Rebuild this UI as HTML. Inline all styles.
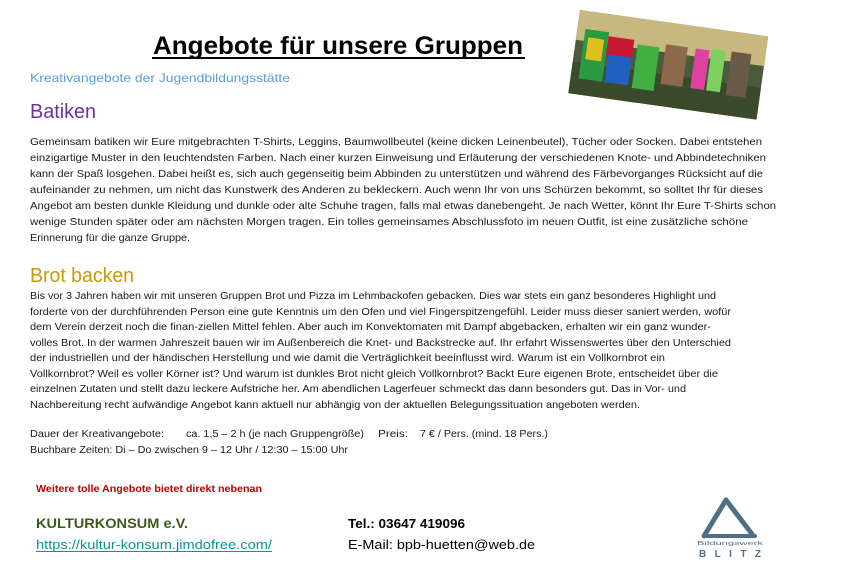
<!DOCTYPE html>
<html><head><meta charset="utf-8"><style>
html,body{margin:0;padding:0;background:#fff;width:842px;height:562px;overflow:hidden}
svg{display:block}
.b{font-family:"Liberation Sans",sans-serif;font-size:10px;fill:#1a1a1a}
</style></head><body>
<svg width="842" height="562" viewBox="0 0 842 562" xmlns="http://www.w3.org/2000/svg">
<text x="153" y="54" font-family="Liberation Sans,sans-serif" font-weight="bold" font-size="25" textLength="370" lengthAdjust="spacingAndGlyphs" fill="#000">Angebote für unsere Gruppen</text>
<rect x="152" y="57" width="373" height="2" fill="#000"/>
<text x="30" y="82" font-family="Liberation Sans,sans-serif" font-size="12" textLength="260" lengthAdjust="spacingAndGlyphs" fill="#5b9bd5">Kreativangebote der Jugendbildungsstätte</text>
<text x="30" y="118" font-family="Liberation Sans,sans-serif" font-size="20" textLength="66" lengthAdjust="spacingAndGlyphs" fill="#7030a0">Batiken</text>
<g class="b">
<text x="30" y="145" textLength="732" lengthAdjust="spacingAndGlyphs">Gemeinsam batiken wir Eure mitgebrachten T-Shirts, Leggins, Baumwollbeutel (keine dicken Leinenbeutel), Tücher oder Socken. Dabei entstehen</text>
<text x="30" y="161" textLength="736" lengthAdjust="spacingAndGlyphs">einzigartige Muster in den leuchtendsten Farben. Nach einer kurzen Einweisung und Erläuterung der verschiedenen Knote- und Abbindetechniken</text>
<text x="30" y="177" textLength="733" lengthAdjust="spacingAndGlyphs">kann der Spaß losgehen. Dabei heißt es, sich auch gegenseitig beim Abbinden zu unterstützen und während des Färbevorganges Rücksicht auf die</text>
<text x="30" y="193" textLength="733" lengthAdjust="spacingAndGlyphs">aufeinander zu nehmen, um nicht das Kunstwerk des Anderen zu bekleckern. Auch wenn Ihr von uns Schürzen bekommt, so solltet Ihr für dieses</text>
<text x="30" y="209" textLength="746" lengthAdjust="spacingAndGlyphs">Angebot am besten dunkle Kleidung und dunkle oder alte Schuhe tragen, falls mal etwas danebengeht. Je nach Wetter, könnt Ihr Eure T-Shirts schon</text>
<text x="30" y="225" textLength="718" lengthAdjust="spacingAndGlyphs">wenige Stunden später oder am nächsten Morgen tragen. Ein tolles gemeinsames Abschlussfoto im neuen Outfit, ist eine zusätzliche schöne</text>
<text x="30" y="241" textLength="160" lengthAdjust="spacingAndGlyphs">Erinnerung für die ganze Gruppe.</text>
</g>
<text x="30" y="282" font-family="Liberation Sans,sans-serif" font-size="20" textLength="104" lengthAdjust="spacingAndGlyphs" fill="#c99a06">Brot backen</text>
<g class="b">
<text x="30" y="299" textLength="686" lengthAdjust="spacingAndGlyphs">Bis vor 3 Jahren haben wir mit unseren Gruppen Brot und Pizza im Lehmbackofen gebacken. Dies war stets ein ganz besonderes Highlight und</text>
<text x="30" y="315" textLength="701" lengthAdjust="spacingAndGlyphs">forderte von der durchführenden Person eine gute Kenntnis um den Ofen und viel Fingerspitzengefühl. Leider muss dieser saniert werden, wofür</text>
<text x="30" y="330" textLength="681" lengthAdjust="spacingAndGlyphs">dem Verein derzeit noch die finan-ziellen Mittel fehlen. Aber auch im Konvektomaten mit Dampf abgebacken, erhalten wir ein ganz wunder-</text>
<text x="30" y="346" textLength="701" lengthAdjust="spacingAndGlyphs">volles Brot. In der warmen Jahreszeit bauen wir im Außenbereich die Knet- und Backstrecke auf. Ihr erfahrt Wissenswertes über den Unterschied</text>
<text x="30" y="361" textLength="635" lengthAdjust="spacingAndGlyphs">der industriellen und der händischen Herstellung und wie damit die Verträglichkeit beeinflusst wird. Warum ist ein Vollkornbrot ein</text>
<text x="30" y="377" textLength="688" lengthAdjust="spacingAndGlyphs">Vollkornbrot? Weil es voller Körner ist? Und warum ist dunkles Brot nicht gleich Vollkornbrot? Backt Eure eigenen Brote, entscheidet über die</text>
<text x="30" y="392" textLength="656" lengthAdjust="spacingAndGlyphs">einzelnen Zutaten und stellt dazu leckere Aufstriche her. Am abendlichen Lagerfeuer schmeckt das dann besonders gut. Das in Vor- und</text>
<text x="30" y="408" textLength="610" lengthAdjust="spacingAndGlyphs">Nachbereitung recht aufwändige Angebot kann aktuell nur abhängig von der aktuellen Belegungssituation angeboten werden.</text>
<text x="30" y="437" textLength="134" lengthAdjust="spacingAndGlyphs">Dauer der Kreativangebote:</text>
<text x="186" y="437" textLength="178" lengthAdjust="spacingAndGlyphs">ca. 1,5 – 2 h (je nach Gruppengröße)</text>
<text x="378" y="437" textLength="30" lengthAdjust="spacingAndGlyphs">Preis:</text>
<text x="420" y="437" textLength="128" lengthAdjust="spacingAndGlyphs">7 € / Pers. (mind. 18 Pers.)</text>
<text x="30" y="453" textLength="318" lengthAdjust="spacingAndGlyphs">Buchbare Zeiten: Di – Do zwischen 9 – 12 Uhr / 12:30 – 15:00 Uhr</text>
</g>
<text x="36" y="492" font-family="Liberation Sans,sans-serif" font-size="10" font-weight="bold" textLength="226" lengthAdjust="spacingAndGlyphs" fill="#c00000">Weitere tolle Angebote bietet direkt nebenan</text>
<text x="36" y="528" font-family="Liberation Sans,sans-serif" font-size="14" font-weight="bold" textLength="152" lengthAdjust="spacingAndGlyphs" fill="#3d5a1e">KULTURKONSUM e.V.</text>
<text x="36" y="549" font-family="Liberation Sans,sans-serif" font-size="13" textLength="236" lengthAdjust="spacingAndGlyphs" fill="#00999a">https://kultur-konsum.jimdofree.com/</text>
<rect x="36" y="551" width="236" height="1" fill="#00999a"/>
<text x="348" y="528" font-family="Liberation Sans,sans-serif" font-size="13" font-weight="bold" textLength="117" lengthAdjust="spacingAndGlyphs" fill="#000">Tel.: 03647 419096</text>
<text x="348" y="549" font-family="Liberation Sans,sans-serif" font-size="13" textLength="187" lengthAdjust="spacingAndGlyphs" fill="#000">E-Mail:  bpb-huetten@web.de</text>
<!-- photo -->
<g transform="translate(580,10) rotate(8)">
<rect x="0" y="0" width="190" height="84" fill="#4a5a3a"/>
<rect x="0" y="0" width="190" height="30" fill="#c8b880"/>
<rect x="0" y="52" width="190" height="32" fill="#3a4a2a"/>
<rect x="8" y="18" width="24" height="50" fill="#2a9a40"/>
<rect x="12" y="26" width="16" height="22" fill="#e0c020"/>
<rect x="32" y="22" width="26" height="20" fill="#c81830"/>
<rect x="34" y="40" width="24" height="28" fill="#2060c0"/>
<rect x="62" y="26" width="22" height="44" fill="#40b040"/>
<rect x="90" y="22" width="22" height="40" fill="#8a6a4a"/>
<rect x="120" y="22" width="14" height="40" fill="#e040a0"/>
<rect x="136" y="20" width="14" height="42" fill="#80d060"/>
<rect x="156" y="20" width="20" height="44" fill="#6a5a4a"/>
</g>
<!-- logo -->
<g fill="none" stroke="#4f6f88" stroke-width="5" stroke-linecap="round">
<path d="M726 500 L704 536"/><path d="M726 500 L752 534"/><path d="M704 536 L755 536" stroke-width="4"/>
</g>
<text x="697" y="545" font-family="Liberation Sans,sans-serif" font-size="5" fill="#4f6f88" textLength="66" lengthAdjust="spacingAndGlyphs">Bildungswerk</text>
<text x="699" y="557" font-family="Liberation Sans,sans-serif" font-size="10" font-weight="bold" fill="#4f6f88" textLength="62" lengthAdjust="spacing">BLITZ</text>
</svg>
</body></html>
